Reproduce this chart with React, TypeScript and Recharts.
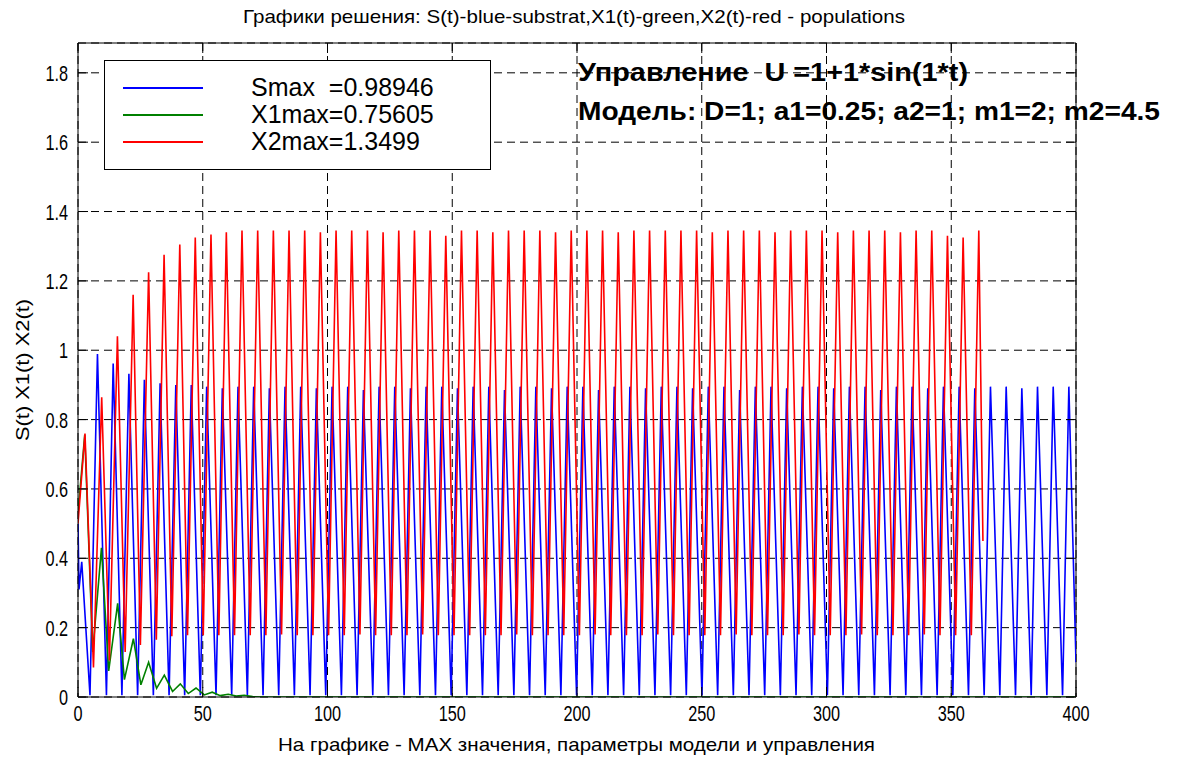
import React from "react";
import {
  LineChart,
  Line,
  XAxis,
  YAxis,
  CartesianGrid,
  ReferenceLine,
  Legend,
} from "recharts";

const xTicks = [0, 50, 100, 150, 200, 250, 300, 350, 400];
const yTicks = [0, 0.2, 0.4, 0.6, 0.8, 1, 1.2, 1.4, 1.6, 1.8];
const yTop = 1.886;

// S(t), blue: [t, value] at peaks and troughs
const sPoints: [number, number][] = [
  [0, 0.5], [0.4, 0.31], [1.5, 0.39], [4.8, 0.005], [7.8, 0.989], [11.4, 0.005],
  [14.1, 0.962], [17.6, 0.005], [20.4, 0.932], [23.9, 0.005], [26.6, 0.915], [30.2, 0.005],
  [32.9, 0.905], [36.5, 0.005], [39.2, 0.9], [42.75, 0.005], [45.4, 0.9], [49.03, 0.005],
  [51.57, 0.895], [55.32, 0.005], [57.85, 0.89], [61.6, 0.005], [64.13, 0.895], [67.88, 0.005],
  [70.42, 0.895], [74.17, 0.005], [76.7, 0.89], [80.45, 0.005], [82.98, 0.895], [86.73, 0.005],
  [89.26, 0.895], [93.01, 0.005], [95.55, 0.89], [99.3, 0.005], [101.83, 0.895], [105.58, 0.005],
  [108.11, 0.895], [111.86, 0.005], [114.4, 0.885], [118.15, 0.005], [120.68, 0.895], [124.43, 0.005],
  [126.96, 0.895], [130.71, 0.005], [133.25, 0.89], [137.0, 0.005], [139.53, 0.895], [143.28, 0.005],
  [145.81, 0.895], [149.56, 0.005], [152.1, 0.89], [155.85, 0.005], [158.38, 0.895], [162.13, 0.005],
  [164.66, 0.895], [168.41, 0.005], [170.95, 0.885], [174.7, 0.005], [177.23, 0.895], [180.98, 0.005],
  [183.51, 0.895], [187.26, 0.005], [189.8, 0.89], [193.55, 0.005], [196.08, 0.895], [199.83, 0.005],
  [202.36, 0.895], [206.11, 0.005], [208.65, 0.885], [212.4, 0.005], [214.93, 0.895], [218.68, 0.005],
  [221.21, 0.895], [224.96, 0.005], [227.49, 0.89], [231.24, 0.005], [233.78, 0.895], [237.53, 0.005],
  [240.06, 0.895], [243.81, 0.005], [246.34, 0.89], [250.09, 0.005], [252.63, 0.895], [256.38, 0.005],
  [258.91, 0.895], [262.66, 0.005], [265.19, 0.885], [268.94, 0.005], [271.48, 0.895], [275.23, 0.005],
  [277.76, 0.895], [281.51, 0.005], [284.04, 0.89], [287.79, 0.005], [290.33, 0.895], [294.08, 0.005],
  [296.61, 0.895], [300.36, 0.005], [302.89, 0.89], [306.64, 0.005], [309.18, 0.895], [312.93, 0.005],
  [315.46, 0.895], [319.21, 0.005], [321.74, 0.885], [325.49, 0.005], [328.03, 0.895], [331.78, 0.005],
  [334.31, 0.895], [338.06, 0.005], [340.59, 0.89], [344.34, 0.005], [346.88, 0.895], [350.63, 0.005],
  [353.16, 0.895], [356.91, 0.005], [359.44, 0.89], [363.19, 0.005], [365.72, 0.895], [369.47, 0.005],
  [372.01, 0.895], [375.76, 0.005], [378.29, 0.89], [382.04, 0.005], [384.57, 0.895], [388.32, 0.005],
  [390.86, 0.895], [394.61, 0.005], [397.14, 0.895], [400, 0.1],
];

// X1(t), green: damped oscillation dying out near t = 70
const x1Points: [number, number][] = [
  [0, 0.53], [2.7, 0.756], [5.9, 0.13], [9.4, 0.43], [12.3, 0.075], [15.9, 0.27],
  [18.6, 0.05], [22.2, 0.168], [25.2, 0.035], [28.3, 0.1], [31.5, 0.025], [34.6, 0.063],
  [37.9, 0.016], [41.0, 0.038], [44.2, 0.01], [47.3, 0.026], [50.6, 0.006], [53.8, 0.014],
  [57.0, 0.004], [60.2, 0.008], [63.4, 0.003], [66.6, 0.005], [70.0, 0.001], [75.0, 0],
  [400, 0],
];

// X2(t), red: ends at t ~ 362.7
const x2Points: [number, number][] = [
  [0, 0.5], [2.8, 0.76], [6.2, 0.085], [9.5, 0.864], [12.6, 0.105], [15.8, 1.04],
  [18.9, 0.13], [22.1, 1.16], [25.0, 0.15], [28.3, 1.225], [31.4, 0.165], [34.5, 1.275],
  [37.6, 0.175], [40.8, 1.305], [43.9, 0.178], [47.0, 1.325], [50.2, 0.178], [53.3, 1.334],
  [56.45, 0.178], [59.45, 1.34], [62.73, 0.178], [65.73, 1.345], [69.02, 0.178], [72.02, 1.345],
  [75.3, 0.178], [78.3, 1.345], [81.58, 0.18], [84.58, 1.345], [87.86, 0.178], [90.86, 1.345],
  [94.15, 0.178], [97.15, 1.34], [100.43, 0.178], [103.43, 1.345], [106.71, 0.178], [109.71, 1.345],
  [113.0, 0.18], [116.0, 1.345], [119.28, 0.178], [122.28, 1.34], [125.56, 0.178], [128.56, 1.345],
  [131.85, 0.178], [134.85, 1.345], [138.13, 0.18], [141.13, 1.345], [144.41, 0.178], [147.41, 1.33],
  [150.7, 0.178], [153.7, 1.345], [156.98, 0.178], [159.98, 1.345], [163.26, 0.178], [166.26, 1.34],
  [169.55, 0.178], [172.55, 1.345], [175.83, 0.18], [178.83, 1.345], [182.11, 0.178], [185.11, 1.345],
  [188.4, 0.178], [191.4, 1.34], [194.68, 0.178], [197.68, 1.345], [200.96, 0.178], [203.96, 1.345],
  [207.25, 0.18], [210.25, 1.345], [213.53, 0.178], [216.53, 1.34], [219.81, 0.178], [222.81, 1.345],
  [226.09, 0.178], [229.09, 1.345], [232.38, 0.18], [235.38, 1.345], [238.66, 0.178], [241.66, 1.345],
  [244.94, 0.178], [247.94, 1.345], [251.23, 0.178], [254.23, 1.34], [257.51, 0.178], [260.51, 1.345],
  [263.79, 0.18], [266.79, 1.345], [270.08, 0.178], [273.08, 1.345], [276.36, 0.178], [279.36, 1.34],
  [282.64, 0.178], [285.64, 1.345], [288.93, 0.18], [291.93, 1.345], [295.21, 0.178], [298.21, 1.345],
  [301.49, 0.178], [304.49, 1.34], [307.78, 0.178], [310.78, 1.345], [314.06, 0.18], [317.06, 1.345],
  [320.34, 0.178], [323.34, 1.345], [326.63, 0.178], [329.63, 1.34], [332.91, 0.178], [335.91, 1.345],
  [339.19, 0.18], [342.19, 1.345], [345.48, 0.178], [348.48, 1.33], [351.76, 0.178], [354.76, 1.325],
  [358.04, 0.178], [361.04, 1.345], [362.7, 0.45],
];

const legendLabels = ["Smax  =0.98946", "X1max=0.75605", "X2max=1.3499"];
const seriesColors = ["#0000ff", "#008000", "#ff0000"];

const titleText = "Графики решения: S(t)-blue-substrat,X1(t)-green,X2(t)-red - populations";
const xLabelText = "На графике - MAX значения, параметры модели и управления";
const yLabelText = "S(t) X1(t) X2(t)";
const noteLines = ["Управление  U =1+1*sin(1*t)", "Модель: D=1; a1=0.25; a2=1; m1=2; m2=4.5"];

const FONT = "'Liberation Sans', Arial, Helvetica, sans-serif";
const PLOT_W = 998;
const PLOT_H = 654;
const TICK = 10;

const toRows = (pts: [number, number][]) => pts.map(([t, v]) => ({ t, v }));

const XTick = ({ x, y, payload }: any) => (
  <g>
    <line x1={x} y1={y} x2={x} y2={y - TICK} stroke="#000" />
    <line x1={x} y1={y - PLOT_H} x2={x} y2={y - PLOT_H + TICK} stroke="#000" />
    <text
      transform={`translate(${x},${y + 24}) scale(0.74,1)`}
      textAnchor="middle"
      fontSize={22}
      fontFamily={FONT}
      fill="#000"
    >
      {payload.value}
    </text>
  </g>
);

const YTick = ({ x, y, payload }: any) => (
  <g>
    <line x1={x} y1={y} x2={x + TICK} y2={y} stroke="#000" />
    <line x1={x + PLOT_W} y1={y} x2={x + PLOT_W - TICK} y2={y} stroke="#000" />
    <text
      transform={`translate(${x - 10},${y + 8}) scale(0.74,1)`}
      textAnchor="end"
      fontSize={22}
      fontFamily={FONT}
      fill="#000"
    >
      {payload.value}
    </text>
  </g>
);

const LegendBox = () => (
  <div
    style={{
      position: "relative",
      width: 387,
      height: 110,
      boxSizing: "border-box",
      border: "1px solid #000",
      background: "#fff",
      fontFamily: FONT,
    }}
  >
    {legendLabels.map((label, i) => (
      <div key={`leg-${i}`}>
        <div
          style={{
            position: "absolute",
            left: 18,
            top: 26 + i * 27.2,
            width: 80,
            height: 2,
            background: seriesColors[i],
          }}
        />
        <div
          style={{
            position: "absolute",
            left: 146,
            top: 12 + i * 27.2,
            fontSize: 25,
            lineHeight: "28px",
            whiteSpace: "pre",
            color: "#000",
          }}
        >
          {label}
        </div>
      </div>
    ))}
  </div>
);

const App = () => {
  const series = [sPoints, x1Points, x2Points];
  return (
    <div style={{ position: "absolute", left: 0, top: 0, width: 1180, height: 760, background: "#fff" }}>
      <LineChart width={1180} height={760} margin={{ top: 43, right: 104, bottom: 0, left: 0 }}>
        <CartesianGrid stroke="#000" strokeDasharray="8 5" strokeWidth={1} />
        <XAxis
          type="number"
          dataKey="t"
          domain={[0, 400]}
          ticks={xTicks}
          interval={0}
          height={63}
          tickSize={0}
          tickMargin={0}
          tickLine={false}
          axisLine={{ stroke: "#000" }}
          tick={<XTick />}
          allowDataOverflow
        />
        <YAxis
          type="number"
          domain={[0, yTop]}
          ticks={yTicks}
          interval={0}
          width={78}
          tickSize={0}
          tickMargin={0}
          tickLine={false}
          axisLine={{ stroke: "#000" }}
          tick={<YTick />}
          allowDataOverflow
        />
        <ReferenceLine y={yTop} stroke="#000" />
        <ReferenceLine x={400} stroke="#000" />
        <Legend
          layout="vertical"
          align="center"
          verticalAlign="middle"
          content={<LegendBox />}
          wrapperStyle={{ position: "absolute", left: 104, top: 60, width: 387, height: 110 }}
        />
        {series.map((pts, i) => (
          <Line
            key={`line-${i}`}
            data={toRows(pts)}
            dataKey="v"
            name={legendLabels[i]}
            type="linear"
            stroke={seriesColors[i]}
            strokeWidth={1.6}
            dot={false}
            activeDot={false}
            isAnimationActive={false}
          />
        ))}
      </LineChart>
      <svg
        width={1180}
        height={760}
        style={{ position: "absolute", left: 0, top: 0, pointerEvents: "none" }}
      >
        <text x={243} y={23} fontSize={19} fontFamily={FONT} textLength={662} lengthAdjust="spacingAndGlyphs">
          {titleText}
        </text>
        <text x={278} y={751} fontSize={19} fontFamily={FONT} textLength={597} lengthAdjust="spacingAndGlyphs">
          {xLabelText}
        </text>
        <text
          transform="translate(29,441) rotate(-90)"
          fontSize={19}
          fontFamily={FONT}
          textLength={142}
          lengthAdjust="spacingAndGlyphs"
        >
          {yLabelText}
        </text>
        <text
          x={578}
          y={81}
          fontSize={26}
          fontWeight="bold"
          fontFamily={FONT}
          textLength={390}
          lengthAdjust="spacingAndGlyphs"
          style={{ whiteSpace: "pre" }}
        >
          {noteLines[0]}
        </text>
        <text
          x={578}
          y={120}
          fontSize={26}
          fontWeight="bold"
          fontFamily={FONT}
          textLength={582}
          lengthAdjust="spacingAndGlyphs"
        >
          {noteLines[1]}
        </text>
      </svg>
    </div>
  );
};

export default App;
